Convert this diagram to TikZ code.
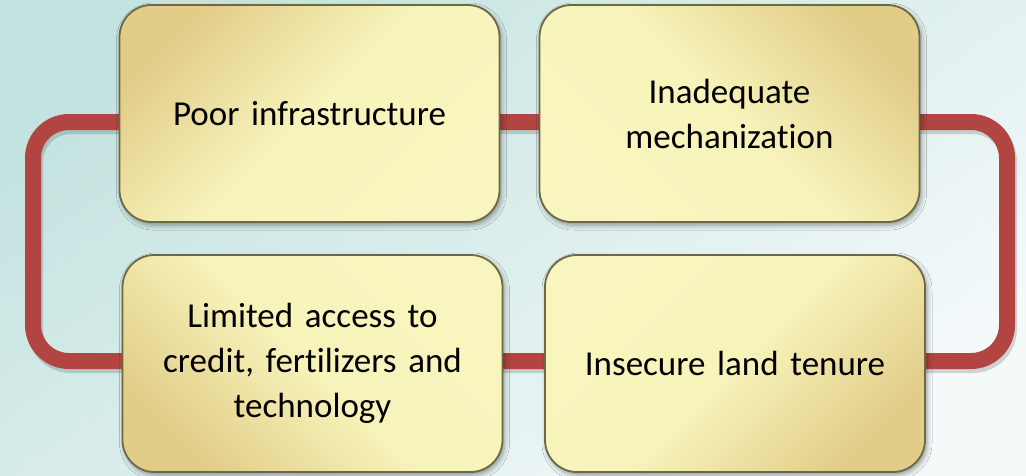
\documentclass[tikz,border=0pt]{standalone}
\usepackage{fontspec}
\setmainfont{Carlito}[RawFeature=-liga, WordSpace=0.75]
\usetikzlibrary{shadows.blur}
\definecolor{loopred}{HTML}{B24441}
\definecolor{boxtan}{HTML}{E2CD88}
\definecolor{boxpale}{HTML}{F8F6BE}
\definecolor{boxedge}{HTML}{6E6844}
\definecolor{bgteal}{HTML}{C4E3E0}
\definecolor{bgwhite}{HTML}{F4F9FA}
\tikzset{
  cause/.style={rectangle, rounded corners=32pt, minimum width=380pt, minimum height=217pt,
    align=center, text width=360pt, draw=boxedge, line width=1.8pt,
    top color=boxtan, bottom color=boxpale, middle color=boxpale!94!boxtan,
    font=\fontsize{35}{45}\selectfont,
    blur shadow={shadow xshift=2pt, shadow yshift=-3pt, shadow blur radius=5pt}},
  redloop/.style={loopred, line width=16pt, rounded corners=36pt}
}
\begin{document}
\begin{tikzpicture}[x=1pt, y=-1pt]
   % background
   \useasboundingbox (0,0) rectangle (1026,475);
   \shade[top color=bgteal, bottom color=bgwhite, shading angle=35] (0,0) rectangle (1026,475);

   % the loop behind the boxes
   \coordinate (nw) at (33,122);
   \coordinate (se) at (1007,361);
   \draw[redloop, black, opacity=0.15] ([shift={(2,4)}]nw) rectangle ([shift={(2,4)}]se);
   \draw[redloop] (nw) rectangle (se);

   \node[cause, shading angle=45]   (infra) at (309.5,113.5) {Poor infrastructure};
   \node[cause, shading angle=-45]  (mech)  at (729.5,113.5) {Inadequate\\mechanization};
   \node[cause, shading angle=135]  (credit) at (312.5,363.5) {Limited access to\\credit, fertilizers and\\technology};
   \node[cause, shading angle=-135] (land)  at (735,363.5) {Insecure land tenure};
\end{tikzpicture}
\end{document}
